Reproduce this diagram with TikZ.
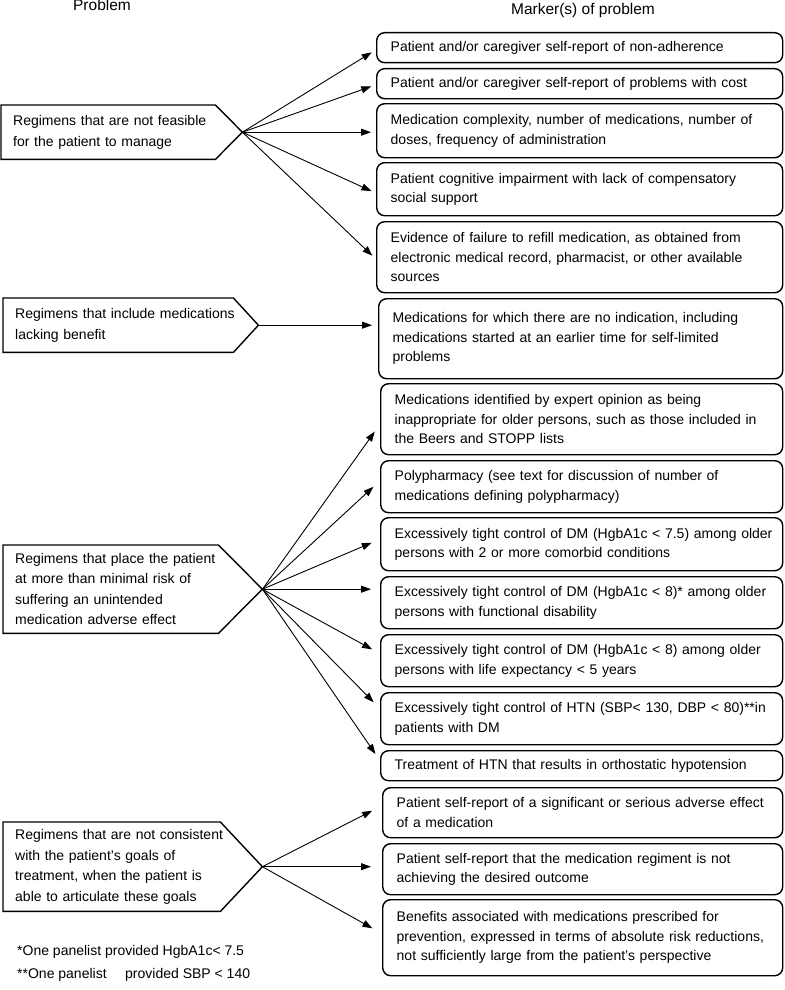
\documentclass[tikz,border=0pt]{standalone}
\usepackage{fontspec}
\setmainfont{Liberation Sans}
\usetikzlibrary{arrows.meta,calc}
\begin{document}
\begin{tikzpicture}[x=1pt,y=-1pt,
  rbox/.style={draw, line width=1.4pt, rounded corners=8pt, anchor=north west,
    align=left, inner xsep=14pt, inner ysep=0pt,
    font=\fontsize{14}{19.5}\selectfont},
  pbox/.style={anchor=north west, align=left, inner xsep=12pt, inner ysep=0pt,
    font=\fontsize{14}{20.5}\selectfont},
  pline/.style={line width=1.4pt, line join=miter},
  arr/.style={line width=0.9pt, -{Triangle[length=10pt,width=7pt]}},
  hdr/.style={font=\fontsize{15.5}{18}\selectfont, anchor=base, inner sep=0pt},
  note/.style={font=\fontsize{14}{17}\selectfont, anchor=base west, inner sep=0pt}]
\useasboundingbox (0,0) rectangle (784,990);
\fill[white] (0,0) rectangle (784,990);

% headers
\node[hdr] (h1) at (102,11) {Problem};
\node[hdr] (h2) at (583,15) {Marker(s) of problem};

% problem boxes
\node[pbox, text width=190pt, minimum height=54pt] (p1) at (1,105)
  {\mbox{Regimens that are not feasible}\\\mbox{for the patient to manage}};
\coordinate (t1) at ($(p1.east)+(27,0)$);
\draw[pline] (p1.north west) -- (p1.north east) -- (t1) -- (p1.south east) -- (p1.south west) -- cycle;

\node[pbox, text width=206pt, minimum height=54pt] (p2) at (3,298)
  {\mbox{Regimens that include medications}\\\mbox{lacking benefit}};
\coordinate (t2) at ($(p2.east)+(25,0)$);
\draw[pline] (p2.north west) -- (p2.north east) -- (t2) -- (p2.south east) -- (p2.south west) -- cycle;

\node[pbox, text width=191pt, minimum height=88pt] (p3) at (3,545)
  {\mbox{Regimens that place the patient}\\\mbox{at more than minimal risk of}\\\mbox{suffering an unintended}\\\mbox{medication adverse effect}};
\coordinate (t3) at ($(p3.east)+(44,0)$);
\draw[pline] (p3.north west) -- (p3.north east) -- (t3) -- (p3.south east) -- (p3.south west) -- cycle;

\node[pbox, text width=193pt, minimum height=89pt] (p4) at (3,822)
  {\mbox{Regimens that are not consistent}\\\mbox{with the patient’s goals of}\\\mbox{treatment, when the patient is}\\\mbox{able to articulate these goals}};
\coordinate (t4) at ($(p4.east)+(42,0)$);
\draw[pline] (p4.north west) -- (p4.north east) -- (t4) -- (p4.south east) -- (p4.south west) -- cycle;

% marker boxes
\node[rbox, text width=378pt, minimum height=30pt] (r1) at (376,32)
  {\mbox{Patient and/or caregiver self-report of non-adherence}};
\node[rbox, text width=378pt, minimum height=30pt] (r2) at (376,68)
  {\mbox{Patient and/or caregiver self-report of problems with cost}};
\node[rbox, text width=378pt, minimum height=54pt] (r3) at (376,103)
  {\mbox{Medication complexity, number of medications, number of}\\\mbox{doses, frequency of administration}};
\node[rbox, text width=378pt, minimum height=53pt] (r4) at (376,162)
  {\mbox{Patient cognitive impairment with lack of compensatory}\\\mbox{social support}};
\node[rbox, text width=378pt, minimum height=71pt] (r5) at (376,221)
  {\mbox{Evidence of failure to refill medication, as obtained from}\\\mbox{electronic medical record, pharmacist, or other available}\\\mbox{sources}};
\node[rbox, text width=376pt, minimum height=80pt] (r6) at (378,298)
  {\mbox{Medications for which there are no indication, including}\\\mbox{medications started at an earlier time for self-limited}\\\mbox{problems}};
\node[rbox, text width=374pt, minimum height=71pt] (r7) at (380,383)
  {\mbox{Medications identified by expert opinion as being}\\\mbox{inappropriate for older persons, such as those included in}\\\mbox{the Beers and STOPP lists}};
\node[rbox, text width=374pt, minimum height=52pt] (r8) at (380,460)
  {\mbox{Polypharmacy (see text for discussion of number of}\\\mbox{medications defining polypharmacy)}};
\node[rbox, text width=374pt, minimum height=53pt] (r9) at (380,517)
  {\mbox{Excessively tight control of DM (HgbA1c < 7.5) among older}\\\mbox{persons with 2 or more comorbid conditions}};
\node[rbox, text width=374pt, minimum height=52pt] (r10) at (380,576)
  {\mbox{Excessively tight control of DM (HgbA1c < 8)* among older}\\\mbox{persons with functional disability}};
\node[rbox, text width=374pt, minimum height=52pt] (r11) at (380,634)
  {\mbox{Excessively tight control of DM (HgbA1c < 8) among older}\\\mbox{persons with life expectancy < 5 years}};
\node[rbox, text width=374pt, minimum height=52pt] (r12) at (380,692)
  {\mbox{Excessively tight control of HTN (SBP< 130, DBP < 80)**in}\\\mbox{patients with DM}};
\node[rbox, text width=374pt, minimum height=30pt] (r13) at (380,750)
  {\mbox{Treatment of HTN that results in orthostatic hypotension}};
\node[rbox, text width=372pt, minimum height=50pt] (r14) at (382,787)
  {\mbox{Patient self-report of a significant or serious adverse effect}\\\mbox{of a medication}};
\node[rbox, text width=372pt, minimum height=51pt] (r15) at (382,843)
  {\mbox{Patient self-report that the medication regiment is not}\\\mbox{achieving the desired outcome}};
\node[rbox, text width=372pt, minimum height=76pt] (r16) at (382,899)
  {\mbox{Benefits associated with medications prescribed for}\\\mbox{prevention, expressed in terms of absolute risk reductions,}\\\mbox{not sufficiently large from the patient’s perspective}};

% connectors
\draw[arr, shorten >=5pt] (t1) -- ([yshift=-2pt]r1.west);
\draw[arr, shorten >=5pt] (t1) -- ([yshift=-1pt]r2.west);
\draw[arr, shorten >=5pt] (t1) -- (t1 -| r3.west);
\draw[arr, shorten >=5pt] (t1) -- ([yshift=-4pt]r4.west);
\draw[arr, shorten >=5pt] (t1) -- ([yshift=-2pt]r5.west);

\draw[arr, shorten >=6pt] (t2) -- (t2 -| r6.west);

\draw[arr, shorten >=9pt] (t3) -- ([yshift=-5pt]r7.west);
\draw[arr, shorten >=9pt] (t3) -- ([yshift=6pt]r8.west);
\draw[arr, shorten >=9pt] (t3) -- ([yshift=5pt]r9.west);
\draw[arr, shorten >=9pt] (t3) -- (t3 -| r10.west);
\draw[arr, shorten >=9pt] (t3) -- ([yshift=7pt]r11.west);
\draw[arr, shorten >=9pt] (t3) -- ([yshift=10pt]r12.west);
\draw[arr, shorten >=8pt] (t3) -- ([yshift=5pt]r13.west);

\draw[arr, shorten >=11pt] (t4) -- ([yshift=7pt]r14.west);
\draw[arr, shorten >=11pt] (t4) -- (t4 -| r15.west);
\draw[arr, shorten >=11pt] (t4) -- ([yshift=4pt]r16.west);

% footnotes
\node[note] (n1) at (17,955) {*One panelist provided HgbA1c< 7.5};
\node[note] (n2) at (17,978) {**One panelist\hspace{18.5pt}provided SBP < 140};
\end{tikzpicture}
\end{document}
